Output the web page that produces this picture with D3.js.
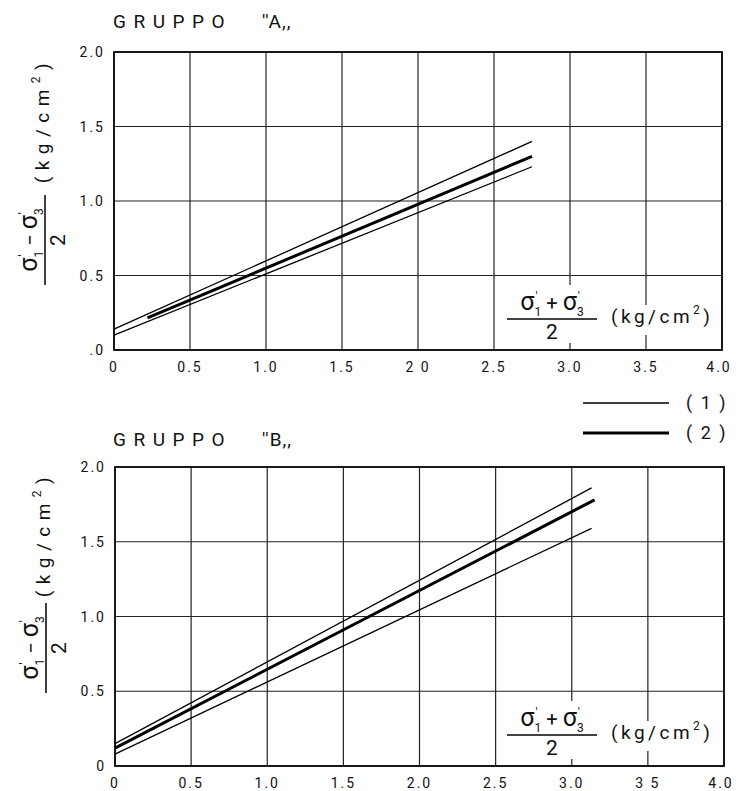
<!DOCTYPE html>
<html>
<head>
<meta charset="utf-8">
<script src="https://cdn.jsdelivr.net/npm/d3@7"></script>
<style>
  body { margin: 0; background: #fff; }
  svg text { font-family: Roboto, "DejaVu Sans", sans-serif; fill: #111; }
</style>
</head>
<body>
<div id="chart"></div>
<script>
// tick values and labels (as printed)
var xTicks = [0, 0.5, 1, 1.5, 2, 2.5, 3, 3.5, 4];
var yTicks = [0, 0.5, 1, 1.5, 2];
var xLabelsA = ["0", "0.5", "1.0", "1.5", "2 0", "2.5", "3.0", "3.5", "4.0"];
var yLabelsA = [".0", "0.5", "1.0", "1.5", "2.0"];
var xLabelsB = ["0", "0.5", "1.0", "1.5", "2.0", "2.5", "3.0", "3 5", "4.0"];
var yLabelsB = ["0", "0.5", "1.0", "1.5", "2.0"];

// GRUPPO "A" : curves (1) upper / lower, curve (2)
var aUpperX = [0, 2.75], aUpperY = [0.14, 1.40];
var aLowerX = [0, 2.75], aLowerY = [0.10, 1.23];
var aMeanX = [0.22, 2.75], aMeanY = [0.215, 1.30];
// GRUPPO "B"
var bUpperX = [0, 3.13], bUpperY = [0.15, 1.86];
var bLowerX = [0, 3.13], bLowerY = [0.08, 1.59];
var bMeanX = [0, 3.15], bMeanY = [0.12, 1.78];

var legendLabels = ["( 1 )", "( 2 )"];

var svg = d3.select("#chart").append("svg")
  .attr("width", 736)
  .attr("height", 791);

function zip(xs, ys) { return xs.map(function (d, i) { return [d, ys[i]]; }); }

// sigma with prime over a subscript
function sigma(t, sub, fs) {
  t.append("tspan").attr("font-size", fs).text("σ");
  t.append("tspan").attr("font-size", 12).attr("dx", 1).attr("dy", -9).text("'");
  t.append("tspan").attr("font-size", 12).attr("dx", -3).attr("dy", 14.5).text(sub);
  return -5.5; // back to baseline
}

function drawPanel(o) {
  var x = d3.scaleLinear().domain([0, 4]).range([o.left, o.right]);
  var y = d3.scaleLinear().domain([0, 2]).range([o.bottom, o.top]);
  var g = svg.append("g");

  // grid
  g.append("g").selectAll("line").data(xTicks.slice(1, -1)).enter().append("line")
    .attr("x1", function (d) { return x(d); }).attr("x2", function (d) { return x(d); })
    .attr("y1", o.top).attr("y2", o.bottom)
    .attr("stroke", "#222").attr("stroke-width", 1.2);
  g.append("g").selectAll("line").data(yTicks.slice(1, -1)).enter().append("line")
    .attr("y1", function (d) { return y(d); }).attr("y2", function (d) { return y(d); })
    .attr("x1", o.left).attr("x2", o.right)
    .attr("stroke", "#222").attr("stroke-width", 1.2);

  // white boxes behind the inner axis label
  g.append("rect").attr("x", 504).attr("y", o.fracY - 34).attr("width", 98).attr("height", 58).attr("fill", "#fff");
  g.append("rect").attr("x", 604).attr("y", o.fracY - 14).attr("width", 116).attr("height", 30).attr("fill", "#fff");

  // lines
  var line = d3.line().x(function (d) { return x(d[0]); }).y(function (d) { return y(d[1]); });
  o.thin.forEach(function (s) {
    g.append("path").datum(s).attr("d", line).attr("fill", "none")
      .attr("stroke", "#000").attr("stroke-width", 1.3);
  });
  g.append("path").datum(o.thick).attr("d", line).attr("fill", "none")
    .attr("stroke", "#000").attr("stroke-width", 3);

  // frame
  g.append("rect").attr("x", o.left).attr("y", o.top)
    .attr("width", o.right - o.left).attr("height", o.bottom - o.top)
    .attr("fill", "none").attr("stroke", "#000").attr("stroke-width", 1.8);

  // tick labels
  g.append("g").selectAll("text").data(xTicks).enter().append("text")
    .attr("x", function (d, i) { return x(d) + (i === xTicks.length - 1 ? -3 : 0); })
    .attr("y", o.bottom + 22)
    .attr("text-anchor", "middle")
    .attr("font-size", 14).attr("letter-spacing", "2px")
    .text(function (d, i) { return o.xLabels[i]; });
  g.append("g").selectAll("text").data(yTicks).enter().append("text")
    .attr("x", o.left - 9)
    .attr("y", function (d) { return y(d) + 5; })
    .attr("text-anchor", "end")
    .attr("font-size", 14).attr("letter-spacing", "2px")
    .text(function (d, i) { return o.yLabels[i]; });

  // title
  g.append("text").attr("x", 113).attr("y", o.titleY)
    .attr("font-size", 19).attr("letter-spacing", "7.5px").text("GRUPPO");
  g.append("text").attr("x", 262).attr("y", o.titleY)
    .attr("font-size", 19).attr("letter-spacing", "1px").text("''" + o.group + ",,");

  // x label inside the plot
  var fs = 25;
  var num = g.append("text").attr("x", 552).attr("y", o.fracY - 9).attr("text-anchor", "middle");
  var back = sigma(num, "1", fs);
  num.append("tspan").attr("font-size", 20).attr("dy", back).text(" + ");
  sigma(num, "3", fs);
  g.append("line").attr("x1", 507).attr("x2", 597).attr("y1", o.fracY).attr("y2", o.fracY)
    .attr("stroke", "#000").attr("stroke-width", 1.5);
  g.append("text").attr("x", 552).attr("y", o.fracY + 20).attr("text-anchor", "middle")
    .attr("font-size", 21).text("2");
  var kg = g.append("text").attr("x", 611).attr("y", o.fracY + 4)
    .attr("font-size", 19).attr("letter-spacing", "3.5px");
  kg.append("tspan").text("(kg/cm");
  kg.append("tspan").attr("font-size", 12).attr("dy", -9).text("2");
  kg.append("tspan").attr("dy", 9).text(")");

  // y label (rotated)
  var yl = g.append("g").attr("transform", "translate(" + o.yLabX + "," + o.yLabY + ") rotate(-90)");
  var n2 = yl.append("text").attr("x", 0).attr("y", -8).attr("text-anchor", "middle");
  var b2 = sigma(n2, "1", fs);
  n2.append("tspan").attr("font-size", 20).attr("dy", b2).text(" − ");
  sigma(n2, "3", fs);
  yl.append("line").attr("x1", -45).attr("x2", 45).attr("y1", 0).attr("y2", 0)
    .attr("stroke", "#000").attr("stroke-width", 1.5);
  yl.append("text").attr("x", 0).attr("y", 20).attr("text-anchor", "middle")
    .attr("font-size", 21).text("2");
  var kg2 = yl.append("text").attr("x", o.kgOff).attr("y", 4).attr("text-anchor", "middle")
    .attr("font-size", 19).attr("letter-spacing", "6.5px");
  kg2.append("tspan").text("(kg/cm");
  kg2.append("tspan").attr("font-size", 12).attr("dy", -9).text("2");
  kg2.append("tspan").attr("dy", 9).text(")");
}

drawPanel({
  left: 114, right: 722, top: 52, bottom: 350,
  xLabels: xLabelsA, yLabels: yLabelsA,
  thin: [zip(aUpperX, aUpperY), zip(aLowerX, aLowerY)],
  thick: zip(aMeanX, aMeanY),
  group: "A", titleY: 28, fracY: 319,
  yLabX: 45, yLabY: 240, kgOff: 120
});

drawPanel({
  left: 115, right: 724, top: 467, bottom: 766,
  xLabels: xLabelsB, yLabels: yLabelsB,
  thin: [zip(bUpperX, bUpperY), zip(bLowerX, bLowerY)],
  thick: zip(bMeanX, bMeanY),
  group: "B", titleY: 446, fracY: 735,
  yLabX: 46, yLabY: 648, kgOff: 114
});

// legend
var leg = svg.append("g");
leg.selectAll("line").data(legendLabels).enter().append("line")
  .attr("x1", 583).attr("x2", 669)
  .attr("y1", function (d, i) { return 403 + i * 30; })
  .attr("y2", function (d, i) { return 403 + i * 30; })
  .attr("stroke", "#000")
  .attr("stroke-width", function (d, i) { return i ? 3 : 1.3; });
leg.selectAll("text").data(legendLabels).enter().append("text")
  .attr("x", 686)
  .attr("y", function (d, i) { return 409 + i * 30; })
  .attr("font-size", 18).attr("letter-spacing", "2px")
  .style("white-space", "pre")
  .text(function (d) { return d; });
</script>
</body>
</html>
